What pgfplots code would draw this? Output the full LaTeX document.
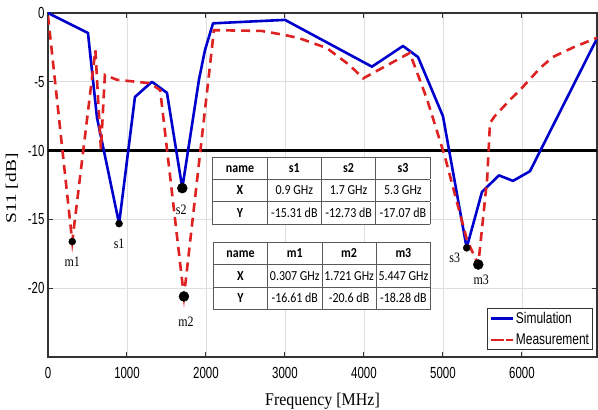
\documentclass[border=0pt]{standalone}
\usepackage{fontspec}
\usepackage{graphicx}
\usepackage{colortbl}
\usepackage{pgfplots}
\pgfplotsset{compat=1.18}
\setmainfont{Liberation Serif}
\newfontfamily\sfont{Liberation Sans}
\newfontfamily\tabfont{Carlito}
\definecolor{simblue}{RGB}{0,0,205}
\definecolor{measred}{RGB}{222,34,34}
\newcommand\tk[1]{\scalebox{1}[1.4]{#1}}
\newcommand\cell[1]{\makebox[53.5bp]{\rule[-6.5bp]{0pt}{21.5bp}\scalebox{1}[1.15]{#1}}}
\newcommand\bcell[1]{\cell{\bfseries #1}}
\newcommand\tableA{%
  \tabfont\fontsize{12}{13}\selectfont
  \setlength\tabcolsep{0pt}\setlength\arrayrulewidth{0.8bp}\arrayrulecolor{black!65}%
  \begin{tabular}{|c|c|c|c|}\hline
  \bcell{name} & \bcell{s1} & \bcell{s2} & \bcell{s3}\\\hline
  \bcell{X} & \cell{0.9 GHz} & \cell{1.7 GHz} & \cell{5.3 GHz}\\\hline
  \bcell{Y} & \cell{-15.31 dB} & \cell{-12.73 dB} & \cell{-17.07 dB}\\\hline
  \end{tabular}}
\newcommand\tableB{%
  \tabfont\fontsize{12}{13}\selectfont
  \setlength\tabcolsep{0pt}\setlength\arrayrulewidth{0.8bp}\arrayrulecolor{black!65}%
  \begin{tabular}{|c|c|c|c|}\hline
  \bcell{name} & \bcell{m1} & \bcell{m2} & \bcell{m3}\\\hline
  \bcell{X} & \cell{0.307 GHz} & \cell{1.721 GHz} & \cell{5.447 GHz}\\\hline
  \bcell{Y} & \cell{-16.61 dB} & \cell{-20.6 dB} & \cell{-18.28 dB}\\\hline
  \end{tabular}}
\pgfplotsset{
  simleg/.style={legend image code/.code={\draw[##1] (0bp,0bp) -- (22bp,0bp);}},
  measleg/.style={legend image code/.code={\path (0bp,0bp) -- (22bp,0bp); \draw[##1, solid] (5bp,0bp) -- (13bp,0bp);}},
}
\begin{document}
\begin{tikzpicture}
\begin{axis}[
  name=ax, at={(0,0)}, anchor=south west,
  scale only axis, width=549bp, height=344bp,
  xmin=0, xmax=6950, ymin=-25, ymax=0,
  xtick={0,1000,2000,3000,4000,5000,6000},
  xticklabels={\tk{0},\tk{1000},\tk{2000},\tk{3000},\tk{4000},\tk{5000},\tk{6000}},
  ytick={-20,-15,-10,-5,0},
  yticklabels={\tk{-20},\tk{-15},\tk{-10},\tk{-5},\tk{0}},
  grid=major, major grid style={draw=black!13, line width=0.9bp},
  axis line style={draw=black!80, line width=1.3bp},
  tick align=inside, major tick length=5bp,
  tick style={draw=black!80, line width=1bp},
  xticklabel style={font=\sfont\fontsize{11.5}{12}\selectfont, yshift=-7bp},
  yticklabel style={font=\sfont\fontsize{11.5}{12}\selectfont},
  xlabel={\scalebox{1}[1.12]{Frequency [MHz]}},
  xlabel style={font=\fontsize{16}{17}\selectfont, at={(axis description cs:0.5,0)}, anchor=base, yshift=-48bp},
  ylabel={\scalebox{1.3}[1]{S11 [dB]}},
  ylabel style={font=\fontsize{15}{16}\selectfont, at={(axis description cs:0,0.49)}, anchor=center, yshift=36bp},
  legend style={at={(axis description cs:0.993,0.02)}, anchor=south east,
    draw=black!80, line width=1.2bp, font=\sfont\fontsize{12}{13}\selectfont,
    inner sep=1.5bp, row sep=5bp, cells={anchor=west}},
]
\addplot[black, line width=2.6bp, forget plot] coordinates {(-200,-10) (7200,-10)};
\addplot[simblue, line width=2.6bp, line join=round, simleg] coordinates {
  (0,0) (506,-1.45) (620,-7.6) (900,-15.31) (1101,-6.1) (1316,-5.0) (1506,-5.8)
  (1700,-12.73) (1911,-4.85) (1987,-2.7) (2089,-0.75) (3000,-0.5) (4101,-3.9)
  (4494,-2.4) (4684,-3.2) (5000,-7.5) (5300,-17.07) (5494,-13.0) (5709,-11.8)
  (5886,-12.2) (6101,-11.5) (6950,-1.85)};
\addlegendentry{\scalebox{1}[1.3]{Simulation}}
\addplot[measred, line width=2.6bp, dash pattern=on 9bp off 6bp, measleg] coordinates {
  (0,-0.2) (307,-16.61) (600,-2.7) (670,-9.9) (720,-4.5) (870,-4.85) (1290,-5.1)
  (1420,-5.6) (1721,-20.6) (2051,-3.8) (2100,-1.25) (2700,-1.3) (3000,-1.6)
  (3190,-1.85) (3530,-2.55) (3820,-3.8) (3990,-4.75) (4580,-2.9) (4800,-6.3)
  (5025,-10.45) (5304,-16.5) (5447,-18.28) (5560,-12.0) (5595,-8.0) (5655,-7.5)
  (5850,-6.3) (5975,-5.6) (6230,-4.0) (6390,-3.2) (6650,-2.5) (6950,-1.8)};
\addlegendentry{\scalebox{1}[1.3]{Measurement}}
\addplot[only marks, mark=*, mark size=3.5bp, black, forget plot] coordinates {(900,-15.31) (307,-16.61) (5300,-17.07)};
\addplot[only marks, mark=*, mark size=5bp, black, forget plot] coordinates {(1700,-12.73) (1721,-20.6) (5447,-18.28)};
\node[font=\fontsize{12}{13}\selectfont, yshift=-20bp] at (axis cs:900,-15.31) {\scalebox{1}[1.2]{s1}};
\node[font=\fontsize{12}{13}\selectfont, yshift=-20bp] at (axis cs:307,-16.61) {\scalebox{1}[1.2]{m1}};
\node[font=\fontsize{12}{13}\selectfont, yshift=-22bp, xshift=-1bp] at (axis cs:1700,-12.73) {\scalebox{1}[1.2]{s2}};
\node[font=\fontsize{12}{13}\selectfont, yshift=-25bp, xshift=2bp] at (axis cs:1721,-20.6) {\scalebox{1}[1.2]{m2}};
\node[font=\fontsize{12}{13}\selectfont, yshift=-10bp, xshift=-12bp, inner sep=0pt] at (axis cs:5300,-17.07) {\scalebox{1}[1.2]{s3}};
\node[font=\fontsize{12}{13}\selectfont, yshift=-15bp, xshift=3bp, inner sep=0pt] at (axis cs:5447,-18.28) {\scalebox{1}[1.2]{m3}};
\node[fill=white, inner sep=0pt, anchor=center] at (axis cs:3462,-12.9) {\tableA};
\node[fill=white, inner sep=0pt, anchor=center] at (axis cs:3468,-19.11) {\tableB};
\end{axis}
\pgfresetboundingbox
\path ([shift={(-48bp,-53bp)}]ax.south west) rectangle ([shift={(1bp,13bp)}]ax.north east);
\end{tikzpicture}
\end{document}
